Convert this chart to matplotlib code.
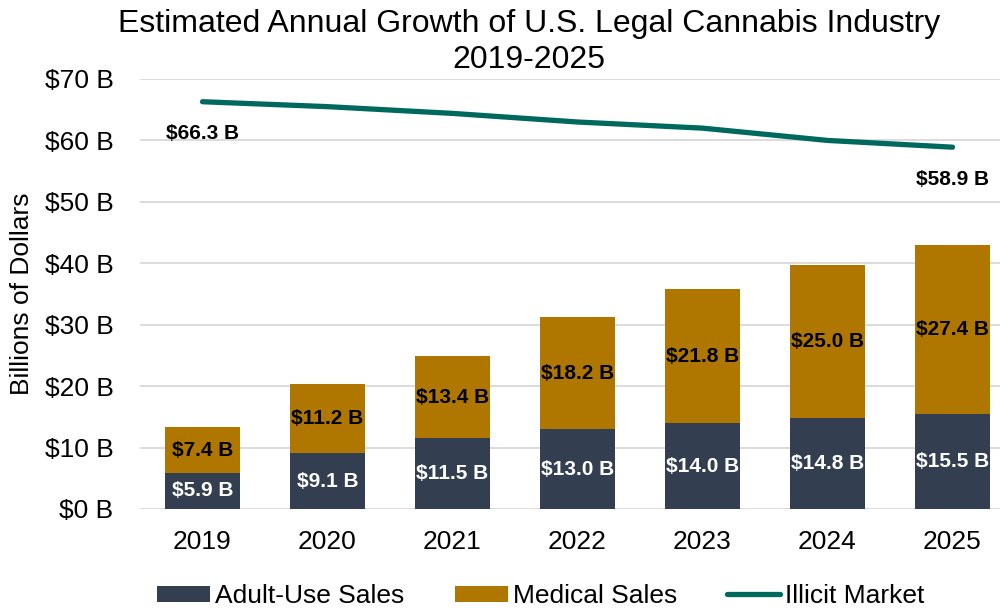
import matplotlib.pyplot as plt
import numpy as np

plt.rcParams['font.family'] = ['Liberation Sans', 'DejaVu Sans']

years = ['2019', '2020', '2021', '2022', '2023', '2024', '2025']
adult_use = [5.9, 9.1, 11.5, 13.0, 14.0, 14.8, 15.5]
medical = [7.4, 11.2, 13.4, 18.2, 21.8, 25.0, 27.4]
illicit = [66.3, 65.5, 64.4, 63.0, 62.0, 60.0, 58.9]
y_ticks = [0, 10, 20, 30, 40, 50, 60, 70]

c_adult = '#333F50'
c_med = '#AF7700'
c_illicit = '#00695E'

fig = plt.figure(figsize=(10.03, 6.09), dpi=100)
ax = fig.add_axes([140 / 1003, 100 / 609, 860 / 1003, 430 / 609])

x = np.arange(len(years))
w = 0.6
h_adult = ax.bar(x, adult_use, w, color=c_adult, zorder=3)
h_med = ax.bar(x, medical, w, bottom=adult_use, color=c_med, zorder=3)
h_ill, = ax.plot(x, illicit, color=c_illicit, lw=3.8, solid_capstyle='round', zorder=4)

for xi, a, m in zip(x, adult_use, medical):
    ax.text(xi, a / 2, f'${a:.1f} B', ha='center', va='center', color='white',
            fontsize=15, fontweight='bold', zorder=5)
    ax.text(xi, a + m / 2, f'${m:.1f} B', ha='center', va='center', color='black',
            fontsize=15, fontweight='bold', zorder=5)

for i in (0, len(years) - 1):
    ax.annotate(f'${illicit[i]:.1f} B', (x[i], illicit[i]), xytext=(0, -23),
                textcoords='offset points', ha='center', va='center',
                fontsize=15, fontweight='bold', color='black', zorder=5)

ax.set_xlim(-0.5, 6.38)
ax.set_ylim(0, 70)
ax.set_yticks(y_ticks)
ax.set_yticklabels([f'${t} B' for t in y_ticks], fontsize=19)
ax.set_xticks(x)
ax.set_xticklabels(years, fontsize=19)
ax.tick_params(length=0)
ax.tick_params(axis='y', pad=19)
ax.tick_params(axis='x', pad=15)
ax.grid(axis='y', color='#D9D9D9', lw=1.3, zorder=0)
for s in ax.spines.values():
    s.set_visible(False)

ax.set_ylabel('Billions of Dollars', fontsize=19)
ax.yaxis.set_label_coords(-(140 - 22) / 860, 0.5)
ax.yaxis.label.set_va('center')

fig.text(529 / 1003, 1 - 42 / 609, 'Estimated Annual Growth of U.S. Legal Cannabis Industry\n2019-2025',
         ha='center', va='center', fontsize=23, linespacing=1.25)

fig.legend([h_adult, h_med, h_ill], ['Adult-Use Sales', 'Medical Sales', 'Illicit Market'],
           loc='center', bbox_to_anchor=(541 / 1003, 1 - 596 / 609), ncol=3, frameon=False,
           fontsize=19, handlelength=2.0, handleheight=0.55, columnspacing=1.9,
           handletextpad=0.2)

fig.savefig('out.png', dpi=100)
